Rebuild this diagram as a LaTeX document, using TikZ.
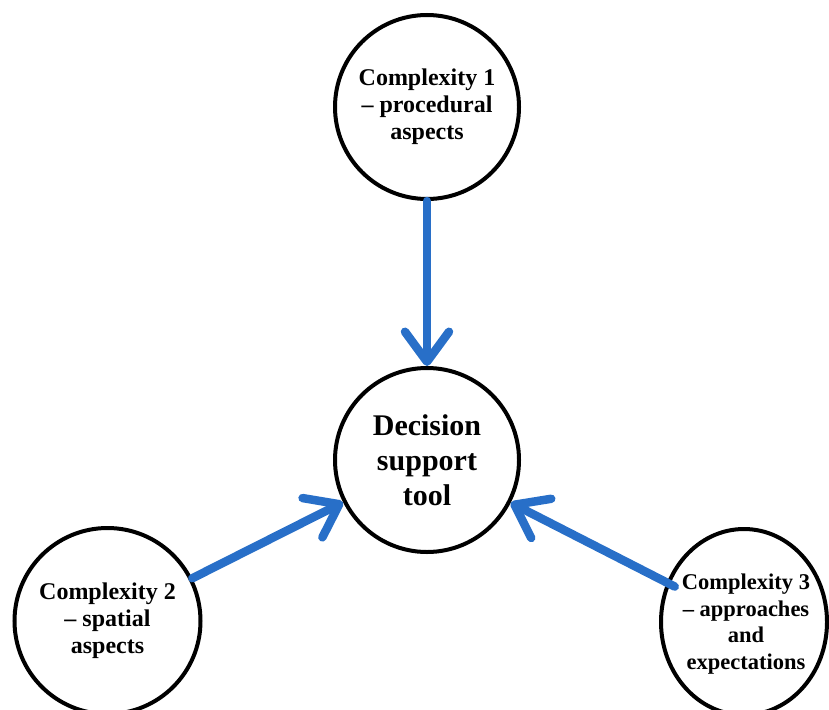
\documentclass[tikz,border=0pt]{standalone}
\usepackage{fontspec}
\setmainfont{Liberation Serif}
\usetikzlibrary{arrows.meta,shapes.geometric}
\definecolor{arrowblue}{RGB}{40,111,200}
\tikzset{
  bubbletext/.style={align=center,inner sep=0pt,font=\bfseries\fontsize{24}{27}\selectfont},
  bubble/.style={circle,draw=black,line width=4pt,minimum size=184pt,inner sep=0pt,bubbletext},
  link/.style={draw=arrowblue,line width=8.5pt,line cap=round,-{Straight Barb[length=30pt,width=44pt,round]}}
}
\begin{document}
\begin{tikzpicture}[x=1pt,y=-1pt]
\useasboundingbox (0,0) rectangle (829,709);
\node[bubble] (top) at (427,107) {Complexity 1\\– procedural\\aspects};
\node[bubble,font=\bfseries\fontsize{30}{35}\selectfont] (mid) at (427,460) {Decision\\support\\tool};
\node[bubble,minimum size=186pt] (left) at (107.5,621) {Complexity 2\\– spatial\\aspects};
\node[ellipse,draw=black,line width=4pt,minimum width=166pt,minimum height=186pt,inner sep=0pt] (right) at (744,622) {};
\node[bubbletext,font=\bfseries\fontsize{22.5}{26.5}\selectfont] (righttext) at (746,624) {Complexity 3\\– approaches\\and\\expectations};
\draw[link] (top) -- (mid);
\draw[link] (left) -- (mid);
\draw[link,shorten <=-9pt] (right) -- (mid);
\end{tikzpicture}
\end{document}
